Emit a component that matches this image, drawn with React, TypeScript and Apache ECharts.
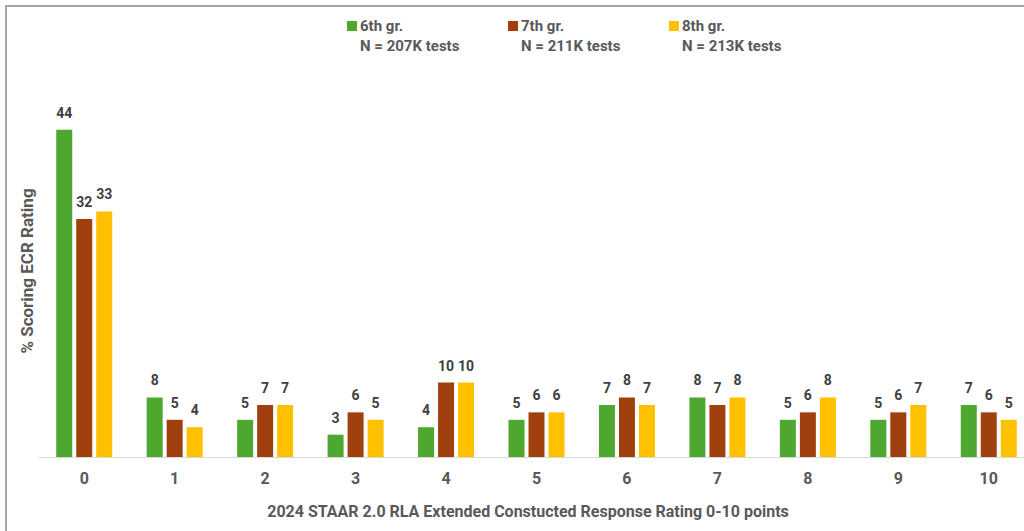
import React, { useEffect, useRef } from "react";
import * as echarts from "echarts";

const categories = ["0", "1", "2", "3", "4", "5", "6", "7", "8", "9", "10"];
const grade6 = [44, 8, 5, 3, 4, 5, 7, 8, 5, 5, 7];
const grade7 = [32, 5, 7, 6, 10, 6, 8, 7, 6, 6, 6];
const grade8 = [33, 4, 7, 5, 10, 6, 7, 8, 8, 7, 5];
const seriesNames = ["6th gr.", "7th gr.", "8th gr."];
const seriesN = ["N = 207K tests", "N = 211K tests", "N = 213K tests"];
const colors = ["#4EA72E", "#A0400F", "#FFC000"];

const FONT = "Roboto, 'Noto Sans', sans-serif";

export default function App() {
  const ref = useRef<HTMLDivElement>(null);
  useEffect(() => {
    if (!ref.current) return;
    const chart = echarts.init(ref.current, undefined, { renderer: "svg" });
    const data = [grade6, grade7, grade8];
    const legendX = [347, 508, 669];
    const legendGraphics: any[] = [];
    seriesNames.forEach((name, i) => {
      legendGraphics.push({
        type: "rect",
        shape: { x: legendX[i], y: 21, width: 10, height: 10 },
        style: { fill: colors[i] },
      });
      legendGraphics.push({
        type: "text",
        x: legendX[i] + 13,
        y: 26,
        style: {
          text: name,
          fill: "#595959",
          font: `bold 15px ${FONT}`,
          verticalAlign: "middle",
        },
      });
      legendGraphics.push({
        type: "text",
        x: legendX[i] + 13,
        y: 46,
        style: {
          text: seriesN[i],
          fill: "#595959",
          font: `bold 15px ${FONT}`,
          verticalAlign: "middle",
        },
      });
    });
    chart.setOption({
      animation: false,
      backgroundColor: "#ffffff",
      textStyle: { fontFamily: FONT },
      grid: { left: 39, top: 85, width: 995, bottom: 74 },
      xAxis: {
        type: "category",
        data: categories,
        axisLine: { show: true, lineStyle: { color: "#d9d9d9", width: 1 } },
        axisTick: { show: false },
        axisLabel: {
          margin: 13,
          color: "#595959",
          fontSize: 16,
          fontWeight: "bold",
          fontFamily: FONT,
        },
        name: "2024 STAAR 2.0 RLA Extended Constucted Response Rating 0-10 points",
        nameLocation: "middle",
        nameGap: 46,
        nameTextStyle: {
          color: "#595959",
          fontSize: 16,
          fontWeight: "bold",
          fontFamily: FONT,
          padding: [0, 0, 0, -17],
        },
      },
      yAxis: {
        type: "value",
        min: 0,
        max: 50,
        axisLine: { show: false },
        axisTick: { show: false },
        axisLabel: { show: false },
        splitLine: { show: false },
        name: "% Scoring ECR Rating",
        nameLocation: "middle",
        nameGap: 4,
        nameTextStyle: {
          color: "#595959",
          fontSize: 17,
          fontWeight: "bold",
          fontFamily: FONT,
        },
      },
      series: data.map((d, i) => ({
        type: "bar",
        name: seriesNames[i],
        data: d,
        barWidth: 16,
        barGap: "25%",
        itemStyle: { color: colors[i] },
        label: {
          show: true,
          position: "top",
          distance: 10,
          color: "#404040",
          fontSize: 14,
          fontWeight: "bold",
          fontFamily: FONT,
        },
      })),
      graphic: [
        {
          type: "rect",
          shape: { x: 6, y: 6, width: 1040, height: 560 },
          style: { fill: "none", stroke: "#a6a6a6", lineWidth: 2 },
          z: 100,
        },
        ...legendGraphics,
      ],
    });
    return () => chart.dispose();
  }, []);
  return (
    <div
      style={{
        position: "fixed",
        left: 0,
        top: 0,
        width: 1024,
        height: 531,
        overflow: "hidden",
      }}
    >
      <div ref={ref} style={{ width: 1044, height: 531 }} />
    </div>
  );
}
